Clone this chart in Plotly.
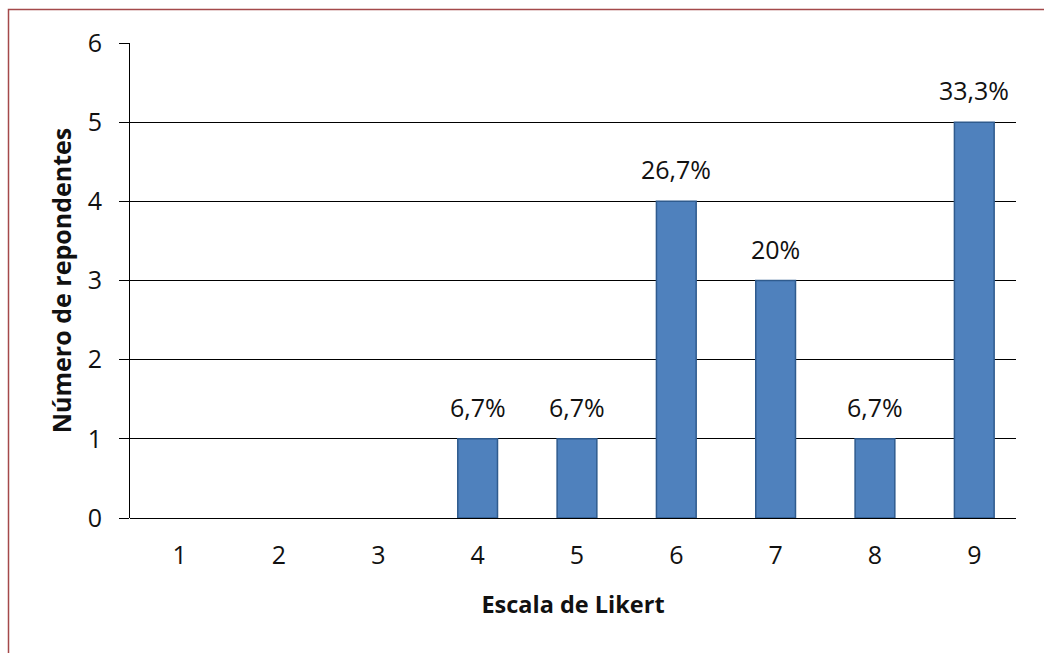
import plotly.graph_objects as go

categories = ["1", "2", "3", "4", "5", "6", "7", "8", "9"]
respondents = [0, 0, 0, 1, 1, 4, 3, 1, 5]
pct_labels = ["", "", "", "6,7%", "6,7%", "26,7%", "20%", "6,7%", "33,3%"]
y_ticks = [0, 1, 2, 3, 4, 5, 6]

W, H = 1044, 653
L, R, T, B = 130, 28, 43, 135
pw, ph = W - L - R, H - T - B

def px(x):
    return (x - L) / pw

def py(y):
    return (H - B - y) / ph

FONT = "'Open Sans', sans-serif"
TXT = "#111111"

fig = go.Figure()
fig.add_trace(go.Bar(
    x=categories,
    y=respondents,
    cliponaxis=False,
    marker=dict(color="#4F81BD",
                line=dict(color="#2F5B8E", width=[0 if v == 0 else 1.5 for v in respondents])),
))

for i, (v, t) in enumerate(zip(respondents, pct_labels)):
    if t:
        fig.add_annotation(x=i, y=v, xref="x", yref="y", text=t, showarrow=False,
                           yanchor="bottom", yshift=13,
                           font=dict(family=FONT, size=25, color=TXT))

fig.update_layout(
    width=W, height=H,
    margin=dict(l=L, r=R, t=T, b=B, pad=0),
    paper_bgcolor="white",
    plot_bgcolor="white",
    bargap=0.6,
    showlegend=False,
    font=dict(family=FONT, size=20, color=TXT),
    xaxis=dict(
        type="category",
        range=[-0.5, 8.42],
        showgrid=False,
        showline=False,
        ticks="",
        ticklabelstandoff=20,
        tickfont=dict(family=FONT, size=25, color=TXT),
        title=dict(text="<b>Escala de Likert</b>", font=dict(family=FONT, size=23.5, color=TXT), standoff=26),
    ),
    yaxis=dict(
        range=[0, 6],
        tickvals=y_ticks,
        showgrid=True,
        gridcolor="#000000",
        gridwidth=1,
        zeroline=True,
        zerolinecolor="#000000",
        zerolinewidth=1,
        showline=True,
        linecolor="#000000",
        linewidth=1,
        ticks="outside",
        ticklen=10,
        tickcolor="#000000",
        ticklabelstandoff=12,
        tickfont=dict(family=FONT, size=25, color=TXT),
        title=dict(text="<b>Número de repondentes</b>", font=dict(family=FONT, size=25, color=TXT), standoff=8),
    ),
)

# outer chart border (dark red)
fig.add_shape(type="rect", xref="paper", yref="paper",
              x0=px(8.5), x1=px(1060), y0=py(680), y1=py(9.5),
              line=dict(color="#A4494A", width=1.5), fillcolor="rgba(0,0,0,0)", layer="below")

fig.write_html("out.html")
